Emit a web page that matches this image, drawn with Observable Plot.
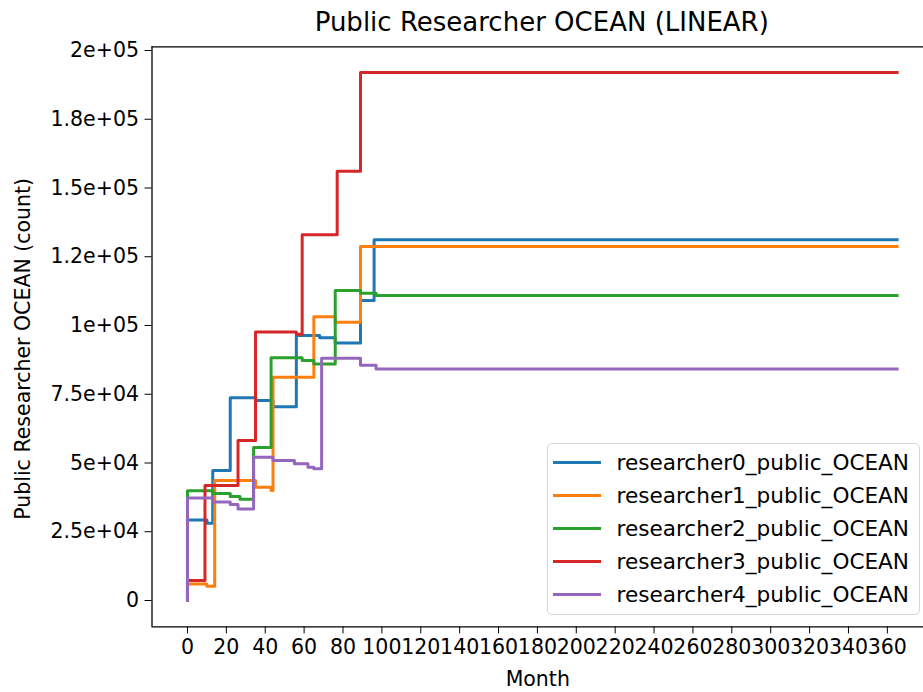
<!DOCTYPE html>
<html>
<head>
<meta charset="utf-8">
<script src="https://cdn.jsdelivr.net/npm/d3@7"></script>
<script src="https://cdn.jsdelivr.net/npm/@observablehq/plot@0.6"></script>
<style>
  html, body { margin: 0; padding: 0; background: #fff; }
  #wrap { position: relative; width: 923px; height: 692px; overflow: hidden; font-family: "DejaVu Sans", sans-serif; color: #000; }
  #title { position: absolute; left: 151.5px; width: 780.5px; top: 2px; height: 40px; line-height: 40px; text-align: center; font-size: 26px; white-space: nowrap; }
  #chart { position: absolute; left: 0; top: 40px; }
  #legend { position: absolute; left: 546.5px; top: 443px; width: 373px; height: 172px; border: 1px solid #d6d6d6; border-radius: 5px; background: rgba(255,255,255,0.85); box-sizing: border-box; }
  .row { position: absolute; left: 0; height: 33px; }
  .swatch { position: absolute; left: 5px; width: 48px; height: 3px; }
  .lab { position: absolute; left: 69px; font-size: 21.6px; white-space: nowrap; line-height: 33px; top: -16.5px; }
</style>
</head>
<body>
<div id="wrap">
  <div id="title"></div>
  <div id="chart"></div>
  <div id="legend"></div>
</div>
<script>
// ---- data ----
const titleText = "Public Researcher OCEAN (LINEAR)";
const xLabel = "Month";
const yLabel = "Public Researcher OCEAN (count)";
const seriesNames = ["researcher0_public_OCEAN", "researcher1_public_OCEAN", "researcher2_public_OCEAN", "researcher3_public_OCEAN", "researcher4_public_OCEAN"];
const seriesColors = ["#1f77b4", "#ff7f0e", "#2ca02c", "#d62728", "#9467bd"];

const r0Months = [0, 0, 10, 13, 22, 35, 44, 56, 68, 76, 89, 96, 365];
const r0Values = [0, 29300, 28100, 47300, 73700, 72700, 70500, 96400, 95500, 93600, 109100, 131200, 131200];

const r1Months = [0, 0, 10, 14, 35, 43, 44, 65, 76, 89, 365];
const r1Values = [0, 6000, 5200, 43600, 41200, 40000, 81200, 103200, 101200, 128700, 128700];

const r2Months = [0, 0, 13, 22, 27, 34, 43, 59, 65, 76, 89, 97, 365];
const r2Values = [0, 39900, 38900, 37800, 36800, 55600, 88300, 87300, 86000, 112700, 111700, 110900, 110900];

const r3Months = [0, 0, 9, 26, 35, 56, 59, 77, 89, 365];
const r3Values = [0, 7300, 41800, 58200, 97600, 96800, 133000, 156100, 192000, 192000];

const r4Months = [0, 0, 13, 22, 26, 34, 44, 55, 62, 65, 69, 89, 97, 365];
const r4Values = [0, 37300, 35800, 34900, 33300, 52100, 50900, 49700, 48500, 47900, 88100, 85500, 84200, 84200];

const xTickValues = [0, 20, 40, 60, 80, 100, 120, 140, 160, 180, 200, 220, 240, 260, 280, 300, 320, 340, 360];
const yTickValues = [0, 25000, 50000, 75000, 100000, 125000, 150000, 175000, 200000];
const yTickLabels = ["0", "2.5e+04", "5e+04", "7.5e+04", "1e+05", "1.2e+05", "1.5e+05", "1.8e+05", "2e+05"];

const xDomain = [-18.25, 378.6];
const yDomain = [-9600, 201345];

// ---- build rows ----
const monthsList = [r0Months, r1Months, r2Months, r3Months, r4Months];
const valuesList = [r0Values, r1Values, r2Values, r3Values, r4Values];
const rows = [];
seriesNames.forEach((s, k) => {
  monthsList[k].forEach((m, i) => rows.push({series: s, month: m, value: valuesList[k][i]}));
});

document.getElementById("title").textContent = titleText;

const chart = Plot.plot({
  width: 923,
  height: 652,
  marginLeft: 151.5,
  marginRight: 0,
  marginTop: 6.3,
  marginBottom: 65.6,
  style: {fontSize: "20.5px", fontFamily: "DejaVu Sans, sans-serif", background: "transparent", color: "#000", overflow: "visible"},
  x: {domain: xDomain, ticks: xTickValues, tickSize: 7, tickPadding: 6, tickFormat: d => String(d), label: null},
  y: {domain: yDomain, ticks: yTickValues, tickSize: 7, tickPadding: 6, tickFormat: d => yTickLabels[yTickValues.indexOf(d)], label: null},
  color: {domain: seriesNames, range: seriesColors},
  marks: [
    Plot.line(rows, {x: "month", y: "value", stroke: "series", z: "series", curve: "step-after", strokeWidth: 3, strokeLinejoin: "round", strokeLinecap: "square"}),
    Plot.ruleX([xDomain[0]], {stroke: "#000", strokeWidth: 1.3}),
    Plot.ruleY([yDomain[0], yDomain[1]], {stroke: "#000", strokeWidth: 1.3}),
    Plot.text([xLabel], {text: d => d, frameAnchor: "bottom", dy: 53, fontSize: 20.5, lineAnchor: "middle", textAnchor: "middle"}),
    Plot.text([yLabel], {text: d => d, frameAnchor: "left", dx: -129, dy: 12, rotate: -90, fontSize: 20.5, lineAnchor: "middle", textAnchor: "middle"})
  ]
});
document.getElementById("chart").appendChild(chart);

// legend
const legend = document.getElementById("legend");
seriesNames.forEach((s, i) => {
  const row = document.createElement("div");
  row.className = "row";
  row.style.top = (18 + i * 33) + "px";
  const sw = document.createElement("div");
  sw.className = "swatch";
  sw.style.background = seriesColors[i];
  sw.style.top = "-1.5px";
  const lab = document.createElement("div");
  lab.className = "lab";
  lab.textContent = s;
  row.appendChild(sw);
  row.appendChild(lab);
  legend.appendChild(row);
});
</script>
</body>
</html>
